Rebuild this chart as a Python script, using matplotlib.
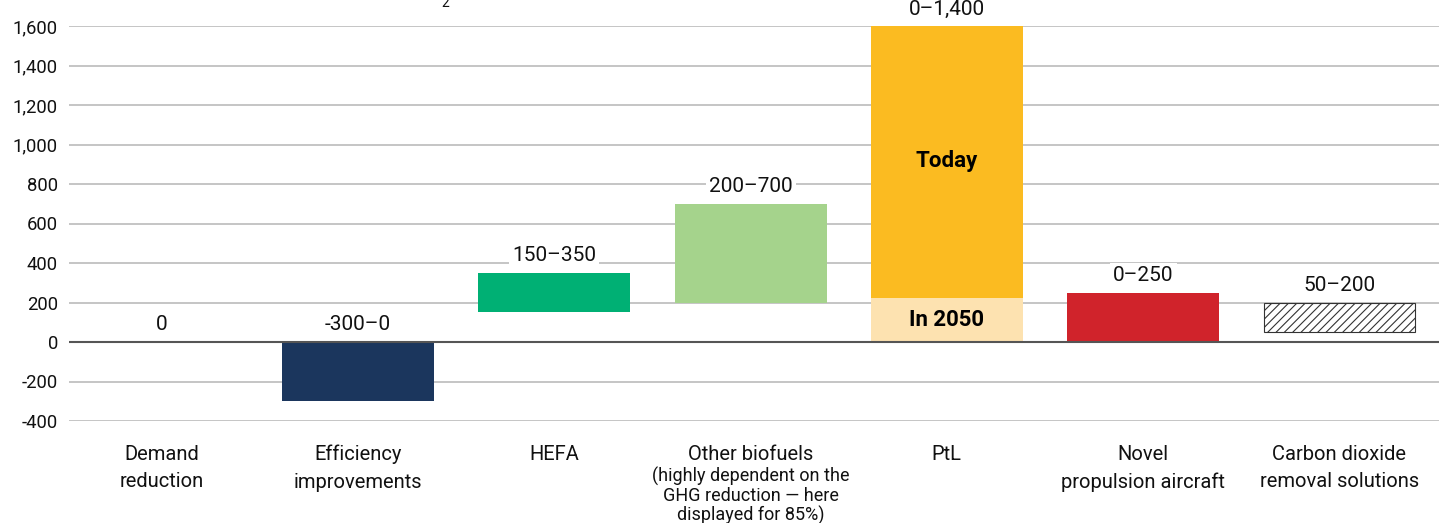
import matplotlib
matplotlib.use("Agg")
from matplotlib import pyplot as plt
import matplotlib.transforms as mtransforms

plt.rcParams["font.family"] = ["Roboto", "DejaVu Sans"]
plt.rcParams["hatch.linewidth"] = 0.8

categories = ["Demand\nreduction", "Efficiency\nimprovements", "HEFA", "Other biofuels",
              "PtL", "Novel\npropulsion aircraft", "Carbon dioxide\nremoval solutions"]
lows = [0, -300, 150, 200, 0, 0, 50]
highs = [0, 0, 350, 700, 1600, 250, 200]
range_labels = ["0", "-300\u20130", "150\u2013350", "200\u2013700", "0\u20131,400", "0\u2013250", "50\u2013200"]
colors = ["none", "#1b365d", "#00b074", "#a5d38c", "#fbbb21", "#d0232b", "white"]

# PtL is split into the 2050 part and what remains today
ptl_2050 = (0, 225)
ptl_today = (225, 1600)

biofuel_note = "(highly dependent on the\nGHG reduction \u2014 here\ndisplayed for 85%)"

fig = plt.figure(figsize=(14.39, 5.23), dpi=100)
ax = fig.add_axes([69 / 1439, 102 / 523, 1370 / 1439, 395 / 523])
ax.set_xlim(-0.472, 6.507)
ax.set_ylim(-400, 1600)

x = list(range(len(categories)))
width = 0.774

for i in x:
    if i == 4:
        ax.bar(i, ptl_2050[1] - ptl_2050[0], bottom=ptl_2050[0], width=width,
               color="#fde2b0", zorder=2)
        ax.bar(i, ptl_today[1] - ptl_today[0], bottom=ptl_today[0], width=width,
               color=colors[i], zorder=2)
        ax.text(i, (ptl_2050[0] + ptl_2050[1]) / 2, "In 2050", ha="center", va="center",
                fontsize=16, fontweight="bold", zorder=4)
        ax.text(i, 915, "Today", ha="center", va="center",
                fontsize=16, fontweight="bold", zorder=4)
    elif i == 6:
        ax.bar(i, highs[i] - lows[i], bottom=lows[i], width=width, color="white",
               edgecolor="#333333", hatch="////", linewidth=0.8, zorder=2)
    elif highs[i] != lows[i]:
        ax.bar(i, highs[i] - lows[i], bottom=lows[i], width=width, color=colors[i], zorder=2)

    ax.annotate(range_labels[i], (i, highs[i]), xytext=(0, 17), textcoords="offset pixels",
                ha="center", va="center", fontsize=15, color="#111111", zorder=5,
                annotation_clip=False,
                bbox=dict(boxstyle="square,pad=0.15", fc="white", ec="none"))

ax.set_yticks(range(-400, 1601, 200))
ax.set_yticklabels([f"{v:,}" for v in range(-400, 1601, 200)])
ax.grid(axis="y", color="#bbbbbb", linewidth=1.2, zorder=0)
ax.axhline(0, color="#555555", linewidth=1.5, zorder=3)
ax.tick_params(axis="y", length=0, pad=8, labelsize=13.3, labelcolor="#111111")

ax.set_xticks(x)
ax.set_xticklabels(categories, fontsize=14.5, linespacing=1.58, color="#111111")
ax.tick_params(axis="x", length=0, pad=17)

for s in ax.spines.values():
    s.set_visible(False)

trans = mtransforms.blended_transform_factory(ax.transData, fig.transFigure)
fig.text(3, 1 - 467 / 523, biofuel_note, transform=trans, ha="center", va="top",
         fontsize=13, linespacing=1.05, color="#111111")

# subscript left over from the heading above the plot
fig.text(445 / 1439, 1 - 3 / 523, "2", ha="center", va="center", fontsize=10, color="#111111")

fig.savefig("out.png", dpi=100)
